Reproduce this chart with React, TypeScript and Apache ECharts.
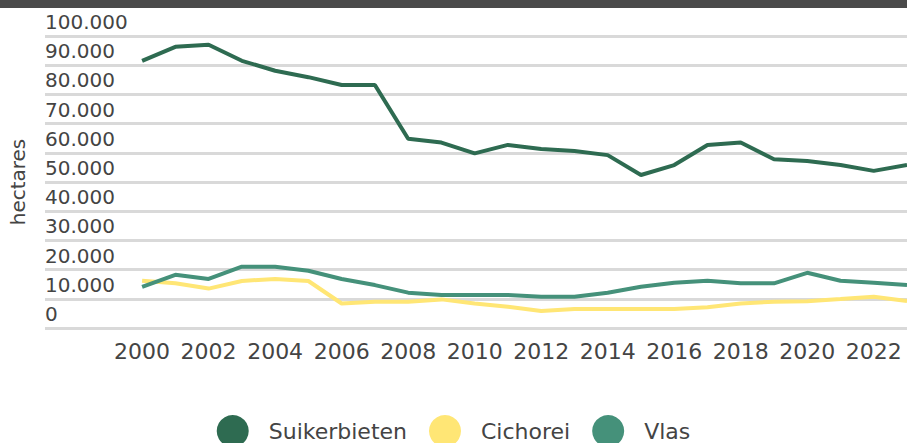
import React, { useEffect, useRef } from "react";
import * as echarts from "echarts";

const years = [2000, 2001, 2002, 2003, 2004, 2005, 2006, 2007, 2008, 2009, 2010, 2011, 2012, 2013, 2014, 2015, 2016, 2017, 2018, 2019, 2020, 2021, 2022, 2023];
const suikerbieten = [91500, 96300, 97000, 91500, 88100, 85900, 83200, 83200, 64800, 63500, 59800, 62700, 61300, 60600, 59200, 52400, 55800, 62700, 63500, 57800, 57200, 55800, 53800, 55800];
const cichorei = [16200, 15300, 13500, 16100, 16800, 16100, 8400, 9000, 9000, 9800, 8400, 7300, 5800, 6500, 6500, 6500, 6500, 7100, 8400, 9000, 9200, 9900, 10700, 9200];
const vlas = [14100, 18200, 16800, 21000, 21000, 19600, 16800, 14700, 12100, 11300, 11300, 11300, 10700, 10700, 12100, 14100, 15500, 16200, 15300, 15300, 18900, 16200, 15500, 14700];
const xTickLabels = [2000, 2002, 2004, 2006, 2008, 2010, 2012, 2014, 2016, 2018, 2020, 2022];
const seriesNames = ["Suikerbieten", "Cichorei", "Vlas"];
const seriesColors = ["#2e6b51", "#ffe675", "#45917a"];

const FONT = "DejaVu Sans";
const TEXT = "#444444";

function fmt(v: number): string {
  return String(v).replace(/\B(?=(\d{3})+(?!\d))/g, ".");
}

export default function App() {
  const ref = useRef<HTMLDivElement>(null);
  useEffect(() => {
    if (!ref.current) return;
    const chart = echarts.init(ref.current, undefined, { renderer: "svg" });
    const datasets = [suikerbieten, cichorei, vlas];
    chart.setOption({
      animation: false,
      backgroundColor: "#ffffff",
      textStyle: { fontFamily: FONT },
      graphic: [
        { type: "rect", left: 0, top: 0, shape: { width: 907, height: 8 }, style: { fill: "#4a4a4a" }, z: 10 },
      ],
      grid: { left: 45, right: 0, top: 36, bottom: 115, containLabel: false, outerBoundsMode: "none" },
      legend: {
        data: seriesNames,
        top: 410,
        left: "center",
        icon: "circle",
        itemWidth: 32,
        itemHeight: 32,
        itemGap: 22,
        textStyle: { fontSize: 22, color: TEXT, fontFamily: FONT, padding: [0, 0, 0, 15] },
      },
      xAxis: {
        type: "value",
        min: 1997.08,
        max: 2023,
        axisLine: { show: false },
        axisTick: { show: false },
        splitLine: { show: false },
        axisLabel: {
          customValues: xTickLabels,
          formatter: (v: number) => String(v),
          fontSize: 22,
          color: TEXT,
          fontFamily: FONT,
          margin: 12,
        },
      },
      yAxis: {
        type: "value",
        min: 0,
        max: 100000,
        interval: 10000,
        name: "hectares",
        nameLocation: "middle",
        nameRotate: 90,
        nameGap: 17,
        nameTextStyle: { fontSize: 20, color: TEXT, fontFamily: FONT },
        axisLine: { show: false },
        axisTick: { show: false },
        splitLine: { lineStyle: { color: "#d9d9d9", width: 3 } },
        axisLabel: {
          inside: true,
          formatter: (v: number) => fmt(v),
          align: "left",
          verticalAlign: "bottom",
          margin: 0,
          padding: [0, 0, 4, 0],
          fontSize: 20,
          color: TEXT,
          fontFamily: FONT,
        },
      },
      series: seriesNames.map((name, i) => ({
        name,
        type: "line",
        symbol: "none",
        color: seriesColors[i],
        lineStyle: { width: 4, color: seriesColors[i] },
        data: years.map((y, j) => [y, datasets[i][j]]),
      })),
    });
    return () => chart.dispose();
  }, []);
  return <div ref={ref} style={{ position: "fixed", left: 0, top: 0, width: 907, height: 443 }} />;
}
